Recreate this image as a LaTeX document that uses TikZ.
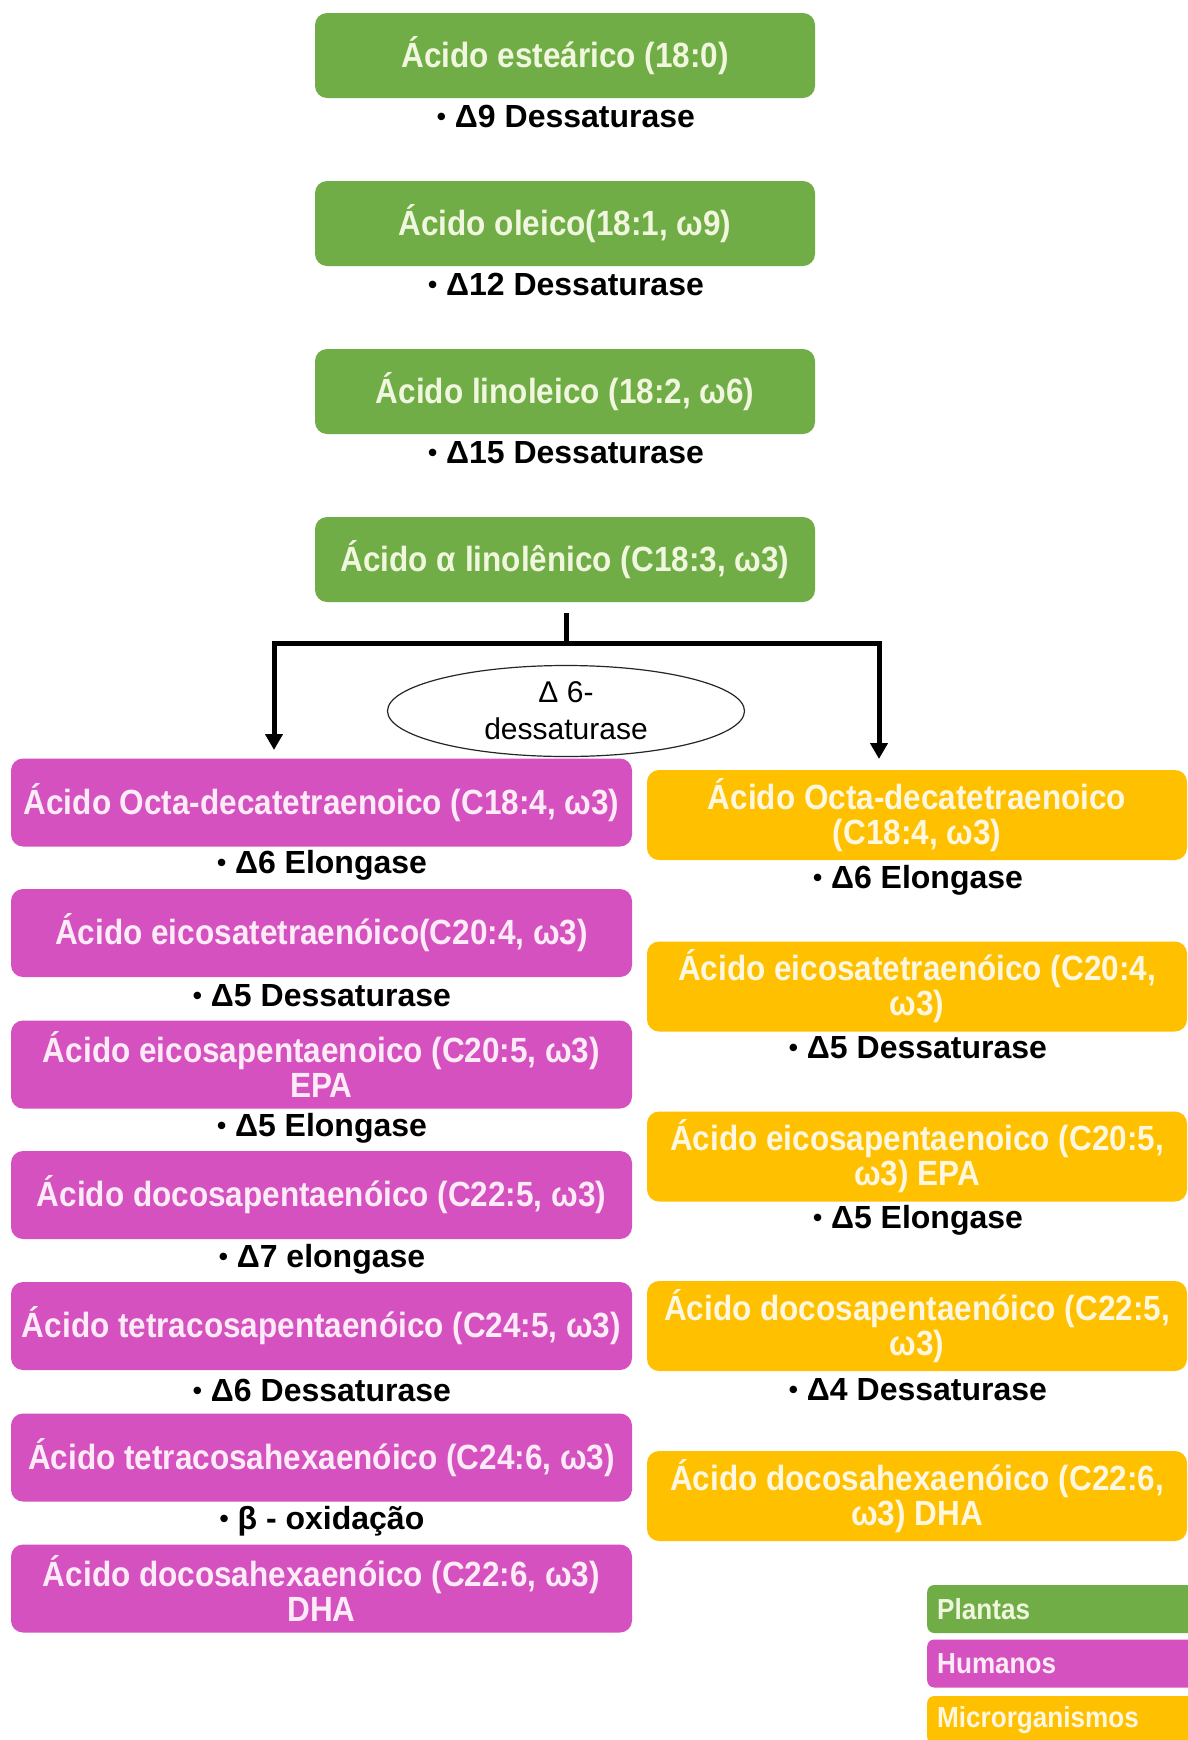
\documentclass[tikz,border=0pt]{standalone}
\usepackage{fontspec}
\setmainfont{Liberation Sans}
\newfontfamily\boxfont[FakeStretch=0.9]{Liberation Sans}
\usetikzlibrary{arrows.meta,shapes.geometric}
\definecolor{plantgreen}{RGB}{112,173,71}
\definecolor{humanpink}{RGB}{213,81,192}
\definecolor{microyellow}{RGB}{255,192,0}
\definecolor{gtext}{RGB}{240,247,222}
\definecolor{ptext}{RGB}{253,236,248}
\definecolor{ytext}{RGB}{255,247,224}
\newcommand{\bul}{\raisebox{2pt}{\fontsize{26}{26}\selectfont •}}
\begin{document}
\begin{tikzpicture}[x=1pt,y=-1pt,
  acid/.style={rounded corners=12pt, inner sep=0pt, align=center,
    font=\boxfont\fontsize{35}{35}\selectfont\bfseries},
  plantbox/.style={acid, fill=plantgreen, text=gtext, minimum width=500pt, minimum height=85pt},
  humanbox/.style={acid, fill=humanpink, text=ptext, minimum width=621pt, minimum height=88pt},
  microbox/.style={acid, fill=microyellow, text=ytext, minimum width=540pt, minimum height=90pt},
  enzyme/.style={font=\fontsize{32}{35}\selectfont\bfseries, text=black, inner sep=0pt},
  conn/.style={line width=5pt, black},
  tip/.style={-{Triangle[width=17pt,length=16pt]}},
  legendbox/.style={rounded corners=7pt, inner xsep=10pt, inner ysep=0pt, minimum height=48pt,
    text width=262pt, align=left, anchor=west,
    font=\boxfont\fontsize{29}{31}\selectfont\bfseries}
]
\useasboundingbox (0,0) rectangle (1187,1740);
\fill[white] (0,0) rectangle (1187,1740);

% plants column
\node[plantbox] (g1) at (565,55.5) {Ácido esteárico (18:0)};
\node[enzyme] (e1) at (566,116) {\bul{} Δ9 Dessaturase};
\node[plantbox] (g2) at (565,223.5) {Ácido oleico(18:1, ω9)};
\node[enzyme] (e2) at (566,284) {\bul{} Δ12 Dessaturase};
\node[plantbox] (g3) at (565,391.5) {Ácido linoleico (18:2, ω6)};
\node[enzyme] (e3) at (566,453) {\bul{} Δ15 Dessaturase};
\node[plantbox] (g4) at (565,559.5) {Ácido α linolênico (C18:3, ω3)};

% branching
\coordinate (stemtop) at (566,613);
\coordinate (jn) at (566,643);
\coordinate (lt) at (274,750);
\coordinate (rt) at (879,759);
\draw[conn] (stemtop) -- (jn);
\draw[conn,tip] (jn) -| (lt);
\draw[conn,tip] (jn) -| (rt);

\node[ellipse, draw=black!85, line width=1.2pt, fill=white, minimum width=357pt, minimum height=91pt,
  inner sep=0pt, align=center, font=\fontsize{30}{37}\selectfont] (d6) at (566,711) {Δ 6-\\dessaturase};

% humans column
\node[humanbox] (h1) at (321.5,802.5) {Ácido Octa-decatetraenoico (C18:4, ω3)};
\node[enzyme] (eh1) at (322,865) {\bul{} Δ6 Elongase};
\node[humanbox] (h2) at (321.5,933) {Ácido eicosatetraenóico(C20:4, ω3)};
\node[enzyme] (eh2) at (322,996) {\bul{} Δ5 Dessaturase};
\node[humanbox] (h3) at (321.5,1064.5) {Ácido eicosapentaenoico (C20:5, ω3)\\EPA};
\node[enzyme] (eh3) at (322,1128) {\bul{} Δ5 Elongase};
\node[humanbox] (h4) at (321.5,1195) {Ácido docosapentaenóico (C22:5, ω3)};
\node[enzyme] (eh4) at (322,1259) {\bul{} Δ7 elongase};
\node[humanbox] (h5) at (321.5,1326) {Ácido tetracosapentaenóico (C24:5, ω3)};
\node[enzyme] (eh5) at (322,1390) {\bul{} Δ6 Dessaturase};
\node[humanbox] (h6) at (321.5,1457.5) {Ácido tetracosahexaenóico (C24:6, ω3)};
\node[enzyme] (eh6) at (322,1521) {\bul{} β - oxidação};
\node[humanbox] (h7) at (321.5,1588.5) {Ácido docosahexaenóico (C22:6, ω3)\\DHA};

% microorganisms column
\node[microbox] (m1) at (917,815) {Ácido Octa-decatetraenoico\\(C18:4, ω3)};
\node[enzyme] (em1) at (918,880) {\bul{} Δ6 Elongase};
\node[microbox] (m2) at (917,986.5) {Ácido eicosatetraenóico (C20:4,\\ω3)};
\node[enzyme] (em2) at (918,1048) {\bul{} Δ5 Dessaturase};
\node[microbox] (m3) at (917,1156.5) {Ácido eicosapentaenoico (C20:5,\\ω3) EPA};
\node[enzyme] (em3) at (918,1220) {\bul{} Δ5 Elongase};
\node[microbox] (m4) at (917,1326) {Ácido docosapentaenóico (C22:5,\\ω3)};
\node[enzyme] (em4) at (918,1390) {\bul{} Δ4 Dessaturase};
\node[microbox] (m5) at (917,1496) {Ácido docosahexaenóico (C22:6,\\ω3) DHA};

% legend
\node[legendbox, fill=plantgreen, text=gtext] (lp) at (927,1609) {Plantas};
\node[legendbox, fill=humanpink, text=ptext] (lh) at (927,1663.5) {Humanos};
\node[legendbox, fill=microyellow, text=ytext] (lm) at (927,1720) {Microrganismos};
\end{tikzpicture}
\end{document}
